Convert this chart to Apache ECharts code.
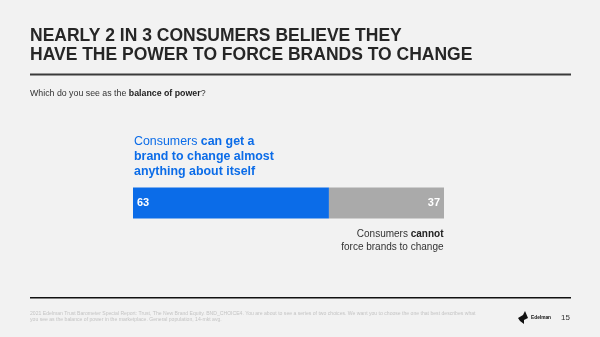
<!DOCTYPE html>
<html>
<head>
<meta charset="utf-8">
<script src="https://cdn.jsdelivr.net/npm/echarts@6/dist/echarts.min.js"></script>
<style>
  html, body { margin: 0; padding: 0; background: #f2f2f2; }
  #chart { width: 600px; height: 337px; }
</style>
</head>
<body>
<div id="chart"></div>
<script>
// Balance of power: share of respondents for each statement (%)
const categories = ['Balance of power'];
const canChange = [63];
const cannotChange = [37];

const chart = echarts.init(document.getElementById('chart'));
const FONT = '"Liberation Sans", Arial, sans-serif';

chart.setOption({
  backgroundColor: '#f2f2f2',
  animation: false,
  grid: { left: 133, top: 187.5, width: 311, height: 31, containLabel: false },
  xAxis: { type: 'value', min: 0, max: 100, show: false },
  yAxis: { type: 'category', data: categories, show: false },
  series: [
    {
      name: 'can', type: 'bar', stack: 'total', barWidth: '100%',
      data: canChange,
      itemStyle: { color: '#0b6ce8' },
      label: { show: true, position: 'insideLeft', offset: [-1, 0], color: '#ffffff',
               fontFamily: FONT, fontWeight: 'bold', fontSize: 11 }
    },
    {
      name: 'cannot', type: 'bar', stack: 'total', barWidth: '100%',
      data: cannotChange,
      itemStyle: { color: '#aaaaaa' },
      label: { show: true, position: 'insideRight', offset: [1, 0], color: '#ffffff',
               fontFamily: FONT, fontWeight: 'bold', fontSize: 11 }
    }
  ],
  graphic: [
    { type: 'text', left: 30, top: 27, style: {
        text: 'NEARLY 2 IN 3 CONSUMERS BELIEVE THEY\nHAVE THE POWER TO FORCE BRANDS TO CHANGE',
        font: 'bold 17.5px ' + FONT, fill: '#262626', lineHeight: 18.5 } },
    { type: 'rect', shape: { x: 30, y: 73.5, width: 541, height: 2 }, style: { fill: '#3a3a3a' } },
    { type: 'text', left: 30, top: 89, style: {
        rich: { n: { font: '8.8px ' + FONT, fill: '#333' }, b: { font: 'bold 8.8px ' + FONT, fill: '#222' } },
        text: '{n|Which do you see as the }{b|balance of power}{n|?}' } },
    { type: 'text', left: 134, top: 135.5, style: {
        rich: {
          n: { font: '12.4px ' + FONT, fill: '#0b6ce8', lineHeight: 15 },
          b: { font: 'bold 12.4px ' + FONT, fill: '#0b6ce8', lineHeight: 15 }
        },
        text: '{n|Consumers }{b|can get a}\n{b|brand to change almost}\n{b|anything about itself}' } },
    { type: 'text', right: 156.5, top: 229.5, style: {
        align: 'right',
        rich: {
          n: { font: '10px ' + FONT, fill: '#333', lineHeight: 12.5, align: 'right' },
          b: { font: 'bold 10px ' + FONT, fill: '#222', lineHeight: 12.5, align: 'right' }
        },
        text: '{n|Consumers }{b|cannot}\n{n|force brands to change}' } },
    { type: 'rect', shape: { x: 30, y: 297, width: 541, height: 1.5 }, style: { fill: '#111' } },
    { type: 'text', left: 30, top: 311, style: {
        text: '2021 Edelman Trust Barometer Special Report: Trust, The New Brand Equity. BND_CHOICE4. You are about to see a series of two choices. We want you to choose the one that best describes what\nyou see as the balance of power in the marketplace. General population, 14-mkt avg.',
        font: '5.1px ' + FONT, fill: '#c4c4c4', lineHeight: 5.5 } },
    { type: 'polygon', shape: { points: [[518,318],[523,315],[525,311],[528,318],[524,320],[524,324],[520,321]] },
      style: { fill: '#111' } },
    { type: 'text', left: 531, top: 315.5, style: { text: 'Edelman', font: 'bold 4.8px ' + FONT, fill: '#111' } },
    { type: 'text', left: 561, top: 314, style: { text: '15', font: '8px ' + FONT, fill: '#333' } }
  ]
});
</script>
</body>
</html>
